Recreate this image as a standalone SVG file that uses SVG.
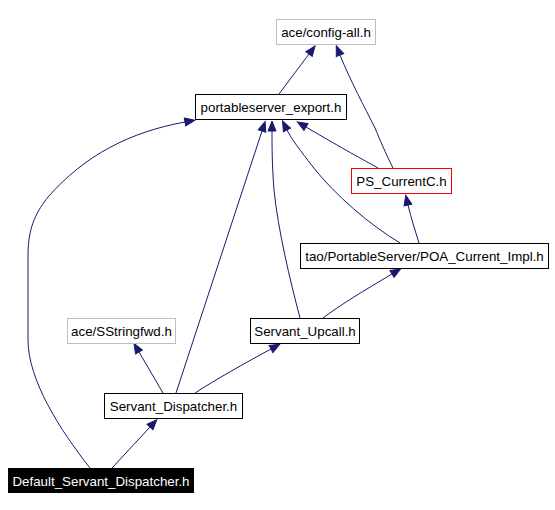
<svg xmlns="http://www.w3.org/2000/svg" width="555" height="510" viewBox="0 0 555 510">
<style>
.bx{fill:#fff;stroke:#000;stroke-width:1}
.gr{fill:#fff;stroke:#bfbfbf;stroke-width:1}
.rd{fill:#fff;stroke:#ff0000;stroke-width:1}
.bk{fill:#000;stroke:#000;stroke-width:1}
text{font-family:"Liberation Sans",Arial,sans-serif;font-size:13.33px;text-anchor:middle;fill:#000}
.wt{fill:#fff}
.e{fill:none;stroke:#191970;stroke-width:1;marker-end:url(#ah)}
</style>
<defs>
<marker id="ah" markerUnits="userSpaceOnUse" markerWidth="10" markerHeight="8" refX="0" refY="4" orient="auto" overflow="visible">
<path d="M0,0 L10,4 L0,8 z" fill="#191970" stroke="#191970" stroke-width="1"/>
</marker>
</defs>
<rect width="555" height="510" fill="#fff"/>
<g id="connectors">
<path class="e" d="M279,94 L309,54"/>
<path class="e" d="M393,168 C385,152 380,140 375,128 C365,108 350,80 340,55"/>
<path class="e" d="M378,168 C362,159 345,150 306,127"/>
<path class="e" d="M400,243 C370,225 335,195 313,167 C300,150 292,140 287,130"/>
<path class="e" d="M300,318 C290,280 278,230 274,190 C272,165 272,145 272,131"/>
<path class="e" d="M176,393 L262,131"/>
<path class="e" d="M419,243 C415,230 411,218 408,205"/>
<path class="e" d="M323,318 C340,305 365,290 392,274"/>
<path class="e" d="M163,393 L139,352"/>
<path class="e" d="M195,393 C215,380 245,363 271,349"/>
<path class="e" d="M112,468 L150,427"/>
<path class="e" d="M90,468 C60,430 28,380 28,340 L28,255 C28,225 38,210 48,197 C85,155 130,132 185,122"/>
</g>
<g id="config-all">
<rect class="gr" x="276.5" y="19.5" width="99" height="25"/>
<text x="326" y="37">ace/config-all.h</text>
</g>
<g id="portableserver_export">
<rect class="bx" x="195.5" y="94.5" width="151" height="25"/>
<text x="271" y="112">portableserver_export.h</text>
</g>
<g id="PS_CurrentC">
<rect class="rd" x="351.5" y="168.5" width="100" height="25"/>
<text x="401.5" y="186">PS_CurrentC.h</text>
</g>
<g id="POA_Current_Impl">
<rect class="bx" x="300.5" y="243.5" width="248" height="25"/>
<text x="424.5" y="261">tao/PortableServer/POA_Current_Impl.h</text>
</g>
<g id="SStringfwd">
<rect class="gr" x="67.5" y="318.5" width="108" height="25"/>
<text x="121.5" y="336">ace/SStringfwd.h</text>
</g>
<g id="Servant_Upcall">
<rect class="bx" x="250.5" y="318.5" width="109" height="25"/>
<text x="305" y="336">Servant_Upcall.h</text>
</g>
<g id="Servant_Dispatcher">
<rect class="bx" x="104.5" y="393.5" width="138" height="25"/>
<text x="173.5" y="411">Servant_Dispatcher.h</text>
</g>
<g id="Default_Servant_Dispatcher">
<rect class="bk" x="8.5" y="468.5" width="185" height="24"/>
<text class="wt" x="101" y="486">Default_Servant_Dispatcher.h</text>
</g>
</svg>
